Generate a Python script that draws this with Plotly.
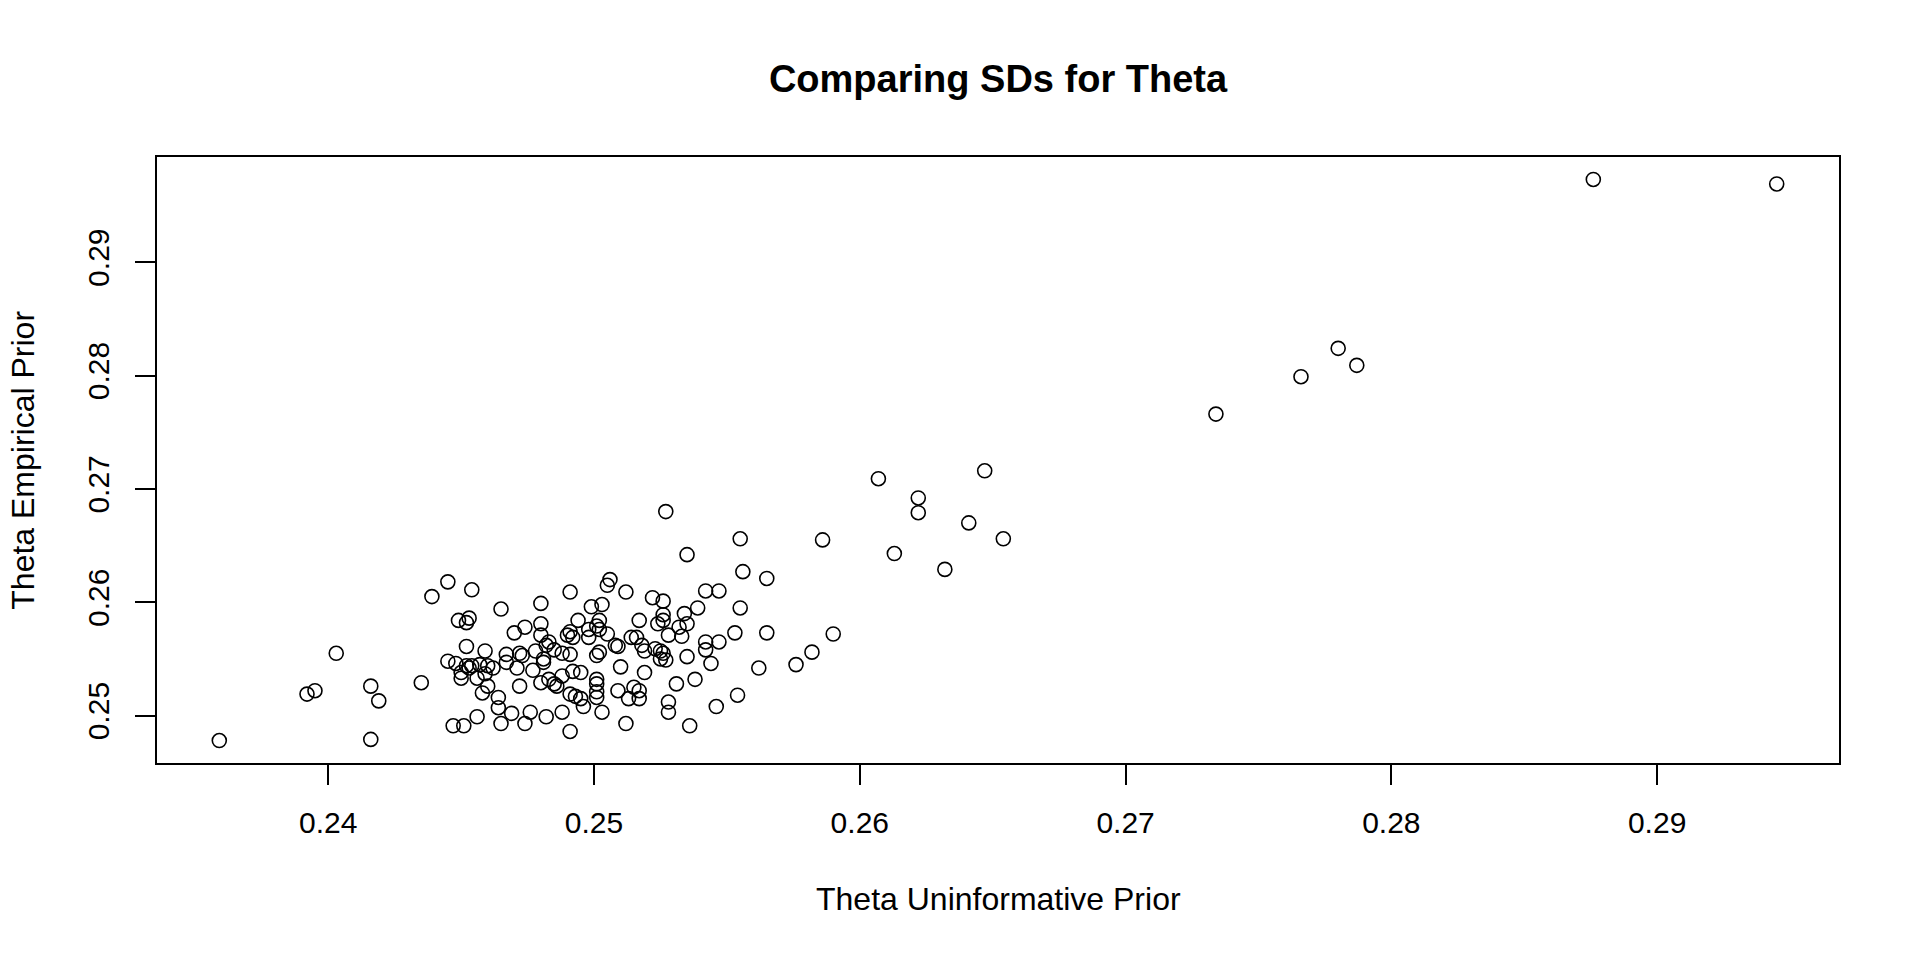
import plotly.graph_objects as go

# Theta SD under uninformative prior (x) and empirical prior (y)
theta_uninformative = [
    0.2359, 0.2403, 0.2392, 0.2395, 0.2416, 0.2419, 0.2416, 0.2435,
    0.2445, 0.2439, 0.2454, 0.2465, 0.2480, 0.2491, 0.2506, 0.2505, 0.2512,
    0.2449, 0.2453, 0.2452, 0.2474, 0.2470, 0.2480, 0.2494, 0.2480, 0.2491,
    0.2490, 0.2492, 0.2498, 0.2498, 0.2502, 0.2502, 0.2503, 0.2499, 0.2501,
    0.2505, 0.2517, 0.2514, 0.2516, 0.2508, 0.2509, 0.2518, 0.2519,
    0.2452, 0.2459, 0.2445, 0.2448, 0.2452, 0.2453, 0.2450, 0.2454, 0.2457,
    0.2460, 0.2462, 0.2450, 0.2456, 0.2459, 0.2467, 0.2467, 0.2472, 0.2471,
    0.2473, 0.2478, 0.2477, 0.2481, 0.2481, 0.2482, 0.2483, 0.2485, 0.2488,
    0.2491, 0.2480, 0.2483, 0.2485, 0.2486, 0.2488, 0.2492, 0.2495, 0.2501,
    0.2502, 0.2501, 0.2501, 0.2501, 0.2501, 0.2510, 0.2519, 0.2509, 0.2515,
    0.2517, 0.2517, 0.2513, 0.2458, 0.2460, 0.2464, 0.2464, 0.2472, 0.2469,
    0.2465, 0.2456, 0.2447, 0.2451, 0.2474, 0.2476, 0.2482, 0.2488, 0.2491,
    0.2491, 0.2493, 0.2495, 0.2496, 0.2503, 0.2512,
    0.2555, 0.2586, 0.2535, 0.2556, 0.2565, 0.2542, 0.2547, 0.2522, 0.2526,
    0.2539, 0.2555, 0.2526, 0.2534, 0.2524, 0.2526, 0.2535, 0.2532, 0.2528,
    0.2533, 0.2542, 0.2547, 0.2542, 0.2553, 0.2565, 0.2590, 0.2582, 0.2576,
    0.2562, 0.2544, 0.2535, 0.2538, 0.2531, 0.2528, 0.2528, 0.2536, 0.2546,
    0.2554, 0.2523, 0.2525, 0.2526, 0.2525, 0.2527,
    0.2876, 0.2945, 0.2780, 0.2766, 0.2787, 0.2734, 0.2607, 0.2647, 0.2622,
    0.2622, 0.2641, 0.2654, 0.2613, 0.2632, 0.2527,
]

theta_empirical = [
    0.2478, 0.2555, 0.2519, 0.2522, 0.2526, 0.2513, 0.2479, 0.2529,
    0.2618, 0.2605, 0.2611, 0.2594, 0.2599, 0.2609, 0.2620, 0.2615, 0.2609,
    0.2584, 0.2586, 0.2582, 0.2578, 0.2573, 0.2581, 0.2584, 0.2571, 0.2574,
    0.2571, 0.2569, 0.2576, 0.2569, 0.2584, 0.2576, 0.2598, 0.2596, 0.2579,
    0.2572, 0.2584, 0.2569, 0.2569, 0.2562, 0.2561, 0.2562, 0.2557,
    0.2561, 0.2557, 0.2548, 0.2546, 0.2544, 0.2542, 0.2538, 0.2544, 0.2545,
    0.2544, 0.2542, 0.2533, 0.2533, 0.2537, 0.2554, 0.2547, 0.2555, 0.2542,
    0.2553, 0.2557, 0.2540, 0.2550, 0.2547, 0.2562, 0.2565, 0.2558, 0.2555,
    0.2554, 0.2529, 0.2532, 0.2528, 0.2526, 0.2535, 0.2539, 0.2538, 0.2553,
    0.2556, 0.2532, 0.2528, 0.2521, 0.2516, 0.2543, 0.2538, 0.2522, 0.2525,
    0.2522, 0.2515, 0.2515, 0.2520, 0.2526, 0.2516, 0.2507, 0.2526, 0.2502,
    0.2493, 0.2499, 0.2491, 0.2491, 0.2493, 0.2503, 0.2499, 0.2503, 0.2486,
    0.2519, 0.2517, 0.2515, 0.2508, 0.2503, 0.2493,
    0.2656, 0.2655, 0.2642, 0.2627, 0.2621, 0.2610, 0.2610, 0.2604, 0.2601,
    0.2595, 0.2595, 0.2589, 0.2590, 0.2581, 0.2584, 0.2581, 0.2578, 0.2571,
    0.2570, 0.2565, 0.2565, 0.2558, 0.2573, 0.2573, 0.2572, 0.2556, 0.2545,
    0.2542, 0.2546, 0.2552, 0.2532, 0.2528, 0.2512, 0.2503, 0.2491, 0.2508,
    0.2518, 0.2559, 0.2557, 0.2555, 0.2550, 0.2549,
    0.2973, 0.2969, 0.2824, 0.2799, 0.2809, 0.2766, 0.2709, 0.2716, 0.2692,
    0.2679, 0.2670, 0.2656, 0.2643, 0.2629, 0.2680,
]

x_ticks = [0.24, 0.25, 0.26, 0.27, 0.28, 0.29]
x_tick_labels = ["0.24", "0.25", "0.26", "0.27", "0.28", "0.29"]
y_ticks = [0.25, 0.26, 0.27, 0.28, 0.29]
y_tick_labels = ["0.25", "0.26", "0.27", "0.28", "0.29"]

title_text = "Comparing SDs for Theta"
x_title = "Theta Uninformative Prior"
y_title = "Theta Empirical Prior"

FONT = "Liberation Sans, Arial, Helvetica, sans-serif"

# the page body has an 8px default margin; size the figure to fill the rest
W, H = 1912, 952
ML, MR, MT, MB = 149, 81, 149, 197
plot_w = W - ML - MR
plot_h = H - MT - MB

fig = go.Figure()
fig.add_trace(go.Scatter(
    x=theta_uninformative,
    y=theta_empirical,
    mode="markers",
    marker=dict(symbol="circle-open", size=14, color="black",
                line=dict(width=1.6, color="black")),
    hoverinfo="x+y",
    showlegend=False,
))

# R-style 4% axis extension
xmin, xmax = min(theta_uninformative), max(theta_uninformative)
ymin, ymax = min(theta_empirical), max(theta_empirical)
xpad = (xmax - xmin) * 0.04
ypad = (ymax - ymin) * 0.04

fig.update_layout(
    width=W, height=H,
    paper_bgcolor="white", plot_bgcolor="white",
    margin=dict(l=ML, r=MR, t=MT, b=MB, pad=0),
    font=dict(family=FONT, color="black"),
    title=dict(text="<b>" + title_text + "</b>", x=0.5, xref="paper",
               y=1 - 71 / H, yref="container", yanchor="middle",
               xanchor="center", font=dict(size=38, family=FONT, color="black")),
    xaxis=dict(
        range=[xmin - xpad, xmax + xpad],
        tickvals=x_ticks, ticktext=x_tick_labels,
        ticks="outside", ticklen=20, tickwidth=2, tickcolor="black",
        showline=True, linecolor="black", linewidth=2, mirror=True,
        showgrid=False, zeroline=False,
        tickfont=dict(size=30, family=FONT, color="black"),
        ticklabelstandoff=12,
    ),
    yaxis=dict(
        range=[ymin - ypad, ymax + ypad],
        tickvals=y_ticks, ticktext=y_tick_labels,
        ticks="outside", ticklen=20, tickwidth=2, tickcolor="black",
        showline=True, linecolor="black", linewidth=2, mirror=True,
        showgrid=False, zeroline=False, tickangle=-90,
        tickfont=dict(size=30, family=FONT, color="black"),
        ticklabelstandoff=14,
    ),
    annotations=[
        dict(text=x_title, xref="paper", yref="paper", x=0.5,
             y=-(899 - 763.3) / plot_h,
             showarrow=False, xanchor="center", yanchor="middle",
             font=dict(size=32, family=FONT, color="black")),
        dict(text=y_title, xref="paper", yref="paper",
             x=-(157.3 - 23) / plot_w, y=0.5,
             showarrow=False, xanchor="center", yanchor="middle", textangle=-90,
             font=dict(size=32, family=FONT, color="black")),
    ],
)

fig.write_html("out.html")
